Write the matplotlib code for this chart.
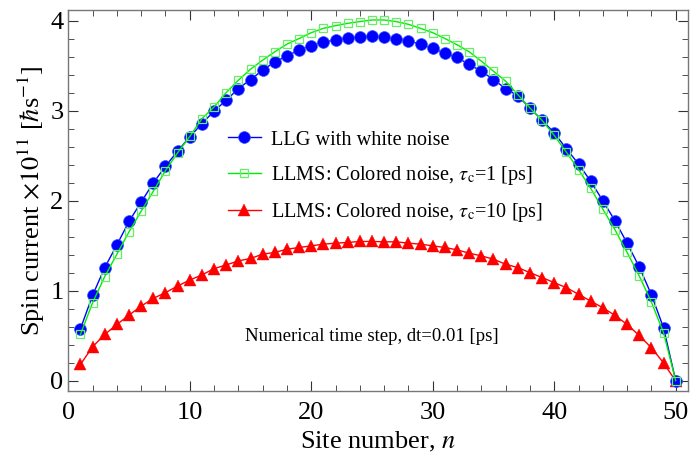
import numpy as np
import matplotlib
matplotlib.use("Agg")
import matplotlib.pyplot as plt
from matplotlib.ticker import MultipleLocator

plt.rcParams["font.family"] = ["Liberation Serif", "DejaVu Serif"]
plt.rcParams["mathtext.fontset"] = "stix"

# site index
site = np.arange(1, 51)

# LLG with white noise
llg_white = [
    0.576, 0.948, 1.256, 1.508, 1.769, 1.984, 2.196, 2.382, 2.549, 2.709,
    2.854, 2.995, 3.114, 3.244, 3.344, 3.448, 3.541, 3.605, 3.675, 3.720,
    3.764, 3.783, 3.809, 3.816, 3.831, 3.816, 3.800, 3.776, 3.735, 3.690,
    3.638, 3.590, 3.512, 3.437, 3.344, 3.244, 3.163, 3.029, 2.891, 2.754,
    2.575, 2.408, 2.215, 1.999, 1.776, 1.527, 1.263, 0.955, 0.587, 0.0,
]

# LLMS, colored noise, tau_c = 1 ps
llms_tau1 = [
    0.513, 0.866, 1.156, 1.405, 1.653, 1.884, 2.104, 2.333, 2.531, 2.712,
    2.910, 3.040, 3.200, 3.337, 3.459, 3.560, 3.653, 3.738, 3.800, 3.865,
    3.913, 3.943, 3.969, 3.988, 4.006, 4.006, 3.988, 3.958, 3.913, 3.865,
    3.800, 3.731, 3.653, 3.549, 3.437, 3.326, 3.177, 3.029, 2.891, 2.724,
    2.538, 2.345, 2.137, 1.906, 1.676, 1.424, 1.163, 0.873, 0.532, 0.0,
]

# LLMS, colored noise, tau_c = 10 ps
llms_tau10 = [
    0.180, 0.376, 0.513, 0.624, 0.728, 0.828, 0.914, 0.978, 1.051, 1.118,
    1.174, 1.245, 1.285, 1.330, 1.357, 1.405, 1.424, 1.460, 1.479, 1.497,
    1.516, 1.527, 1.535, 1.546, 1.546, 1.542, 1.542, 1.527, 1.516, 1.497,
    1.479, 1.453, 1.416, 1.386, 1.349, 1.293, 1.256, 1.200, 1.145, 1.089,
    1.033, 0.959, 0.884, 0.810, 0.725, 0.624, 0.502, 0.365, 0.197, -0.005,
]

labels = [
    "LLG with white noise",
    r"LLMS: Colored noise, $\tau_{\mathrm{c}}$=1 [ps]",
    r"LLMS: Colored noise, $\tau_{\mathrm{c}}$=10 [ps]",
]

fig = plt.figure(figsize=(6.92, 4.63), dpi=100)
ax = fig.add_axes([0.0987, 0.1555, 0.994 - 0.0987, 0.979 - 0.1555])

ax.plot(site, llg_white, color="#0000ff", lw=1.0, marker="o", ms=8.5,
        mfc="#0000ff", mec="#3355ff", mew=0.5, label=labels[0], zorder=3)
ax.plot(site, llms_tau1, color="#00ee00", lw=1.0, marker="s", ms=5.5,
        mfc="none", mec="#66ee66", mew=0.9, label=labels[1], zorder=4)
ax.plot(site, llms_tau10, color="#ff0000", lw=1.0, marker="^", ms=8,
        mfc="#ff0000", mec="#ff0000", mew=0.3, label=labels[2], zorder=2)

ax.set_xlim(0, 51)
ax.set_ylim(-0.115, 4.12)
ax.xaxis.set_major_locator(MultipleLocator(10))
ax.xaxis.set_minor_locator(MultipleLocator(2))
ax.yaxis.set_major_locator(MultipleLocator(1))
ax.yaxis.set_minor_locator(MultipleLocator(0.2))
ax.tick_params(which="both", direction="in", top=True, right=True,
               labelsize=19, color="#333333")
ax.tick_params(which="major", length=7, width=0.8)
ax.tick_params(which="minor", length=4, width=0.6)
ax.tick_params(axis="x", pad=8)
for sp in ax.spines.values():
    sp.set_color("#777777")
    sp.set_linewidth(1.0)

ax.set_xlabel("Site number, $n$", fontsize=19, labelpad=4)
ax.set_ylabel(r"Spin current $\times10^{11}$ [$\hbar$s$^{-1}$]", fontsize=19, labelpad=2)

ax.legend(loc="upper left", bbox_to_anchor=(0.245, 0.705), frameon=False,
          fontsize=14.6, handlelength=1.6, handletextpad=0.5, labelspacing=0.7,
          borderaxespad=0)

ax.text(0.49, 0.142, "Numerical time step, dt=0.01 [ps]", transform=ax.transAxes,
        ha="center", va="center", fontsize=13.5)

fig.savefig("out.png", dpi=100)
